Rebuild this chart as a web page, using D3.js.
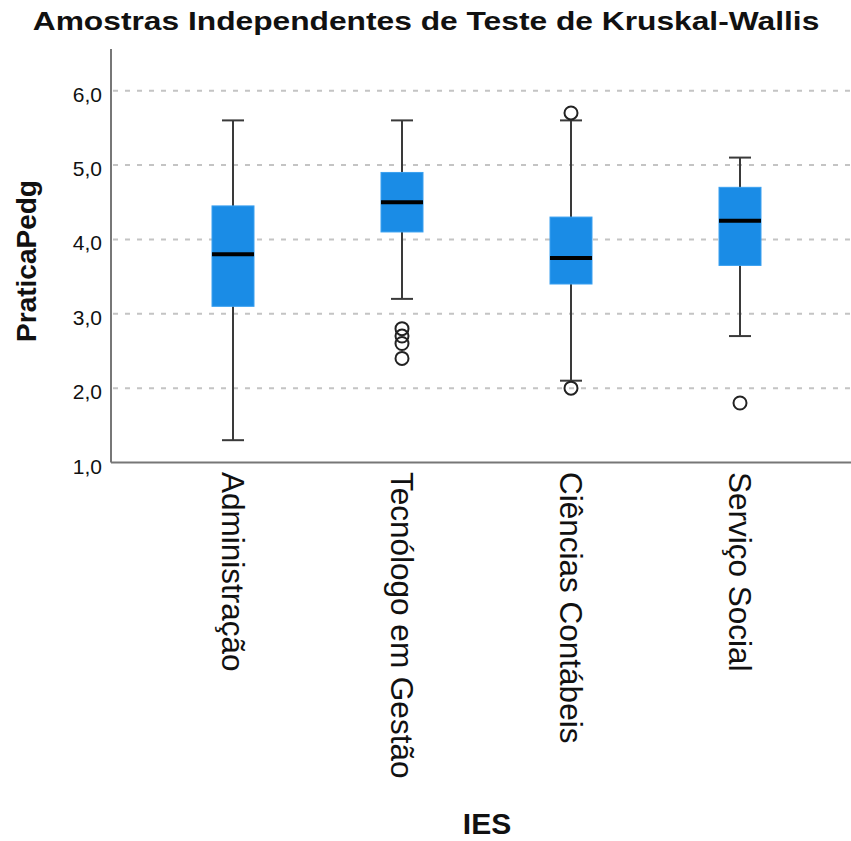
<!DOCTYPE html>
<html>
<head>
<meta charset="utf-8">
<script src="https://cdn.jsdelivr.net/npm/d3@7"></script>
<style>
  body { margin: 0; background: white; }
  text { font-family: "Liberation Sans", Arial, sans-serif; fill: #111; }
</style>
</head>
<body>
<div id="chart"></div>
<script>
// Data
var categories = ["Administração", "Tecnólogo em Gestão", "Ciências Contábeis", "Serviço Social"];
var whiskerLow = [1.3, 3.2, 2.1, 2.7];
var q1 = [3.1, 4.1, 3.4, 3.65];
var median = [3.8, 4.5, 3.75, 4.25];
var q3 = [4.45, 4.9, 4.3, 4.7];
var whiskerHigh = [5.6, 5.6, 5.6, 5.1];
var outliers = [[], [2.8, 2.7, 2.6, 2.4], [5.7, 2.0], [1.8]];
var yTicks = [1, 2, 3, 4, 5, 6];

var width = 851, height = 841;
var plot = { left: 111, right: 851, top: 49, bottom: 462.5 };
var boxWidth = 42, capWidth = 22;

var boxes = categories.map(function(c, i) {
  return { cat: c, lo: whiskerLow[i], q1: q1[i], med: median[i], q3: q3[i], hi: whiskerHigh[i] };
});
var points = [];
outliers.forEach(function(list, i) {
  list.forEach(function(v) { points.push({ cat: categories[i], v: v }); });
});

var x = d3.scalePoint().domain(categories).range([233, 740]);
var y = d3.scaleLinear().domain([1, 6.56]).range([plot.bottom, plot.top]);
var fmt = function(d) { return d3.format(".1f")(d).replace(".", ","); };

var svg = d3.select("#chart")
  .append("svg")
  .attr("width", width)
  .attr("height", height);

// Title (stretched wide like the original)
svg.append("text")
  .attr("transform", "translate(426,30) scale(1.27,1)")
  .attr("text-anchor", "middle")
  .attr("font-size", 25)
  .attr("font-weight", "bold")
  .text("Amostras Independentes de Teste de Kruskal-Wallis");

// Dashed grid lines
svg.selectAll("line.grid")
  .data(yTicks.slice(1))
  .enter()
  .append("line")
  .attr("class", "grid")
  .attr("x1", plot.left + 2)
  .attr("x2", plot.right)
  .attr("y1", function(d) { return y(d); })
  .attr("y2", function(d) { return y(d); })
  .style("stroke", "#c4c4c4")
  .style("stroke-width", "2px")
  .style("stroke-dasharray", "5,7");

// Axis lines
svg.append("line")
  .attr("x1", plot.left).attr("x2", plot.left)
  .attr("y1", plot.top).attr("y2", plot.bottom)
  .style("stroke", "#777").style("stroke-width", "2px");
svg.append("line")
  .attr("x1", plot.left).attr("x2", plot.right)
  .attr("y1", plot.bottom).attr("y2", plot.bottom)
  .style("stroke", "#777").style("stroke-width", "2px");

// Y tick labels
svg.selectAll("text.ytick")
  .data(yTicks)
  .enter()
  .append("text")
  .attr("class", "ytick")
  .attr("x", 102)
  .attr("y", function(d) { return y(d) + 11; })
  .attr("text-anchor", "end")
  .attr("font-size", 21)
  .text(fmt);

// Whisker stems
svg.selectAll("line.stem")
  .data(boxes)
  .enter()
  .append("line")
  .attr("class", "stem")
  .attr("x1", function(d) { return x(d.cat); })
  .attr("x2", function(d) { return x(d.cat); })
  .attr("y1", function(d) { return y(d.lo); })
  .attr("y2", function(d) { return y(d.hi); })
  .style("stroke", "#3a3a3a")
  .style("stroke-width", "2px");

// Whisker caps
["lo", "hi"].forEach(function(k) {
  svg.selectAll("line.cap-" + k)
    .data(boxes)
    .enter()
    .append("line")
    .attr("class", "cap-" + k)
    .attr("x1", function(d) { return x(d.cat) - capWidth / 2; })
    .attr("x2", function(d) { return x(d.cat) + capWidth / 2; })
    .attr("y1", function(d) { return y(d[k]); })
    .attr("y2", function(d) { return y(d[k]); })
    .style("stroke", "#3a3a3a")
    .style("stroke-width", "2px");
});

// Boxes
svg.selectAll("rect.box")
  .data(boxes)
  .enter()
  .append("rect")
  .attr("class", "box")
  .attr("x", function(d) { return x(d.cat) - boxWidth / 2; })
  .attr("y", function(d) { return y(d.q3); })
  .attr("width", boxWidth)
  .attr("height", function(d) { return y(d.q1) - y(d.q3); })
  .style("fill", "#1a8ce6")
  .style("stroke", "#3aa0f0")
  .style("stroke-width", "1px");

// Medians
svg.selectAll("line.median")
  .data(boxes)
  .enter()
  .append("line")
  .attr("class", "median")
  .attr("x1", function(d) { return x(d.cat) - boxWidth / 2; })
  .attr("x2", function(d) { return x(d.cat) + boxWidth / 2; })
  .attr("y1", function(d) { return y(d.med); })
  .attr("y2", function(d) { return y(d.med); })
  .style("stroke", "black")
  .style("stroke-width", "4px");

// Outliers
svg.selectAll("circle.out")
  .data(points)
  .enter()
  .append("circle")
  .attr("class", "out")
  .attr("cx", function(d) { return x(d.cat); })
  .attr("cy", function(d) { return y(d.v); })
  .attr("r", 6.5)
  .style("fill", "none")
  .style("stroke", "#222")
  .style("stroke-width", "2px");

// Category labels, rotated
svg.selectAll("text.cat")
  .data(categories)
  .enter()
  .append("text")
  .attr("class", "cat")
  .attr("transform", function(d) { return "translate(" + x(d) + "," + 472 + ") rotate(90)"; })
  .attr("dy", 11)
  .attr("font-size", 31.5)
  .text(function(d) { return d; });

// Axis titles
svg.append("text")
  .attr("transform", "translate(36," + 261 + ") rotate(-90)")
  .attr("text-anchor", "middle")
  .attr("font-size", 28)
  .attr("font-weight", "bold")
  .text("PraticaPedg");

svg.append("text")
  .attr("x", 487)
  .attr("y", 834)
  .attr("text-anchor", "middle")
  .attr("font-size", 30)
  .attr("font-weight", "bold")
  .text("IES");
</script>
</body>
</html>
